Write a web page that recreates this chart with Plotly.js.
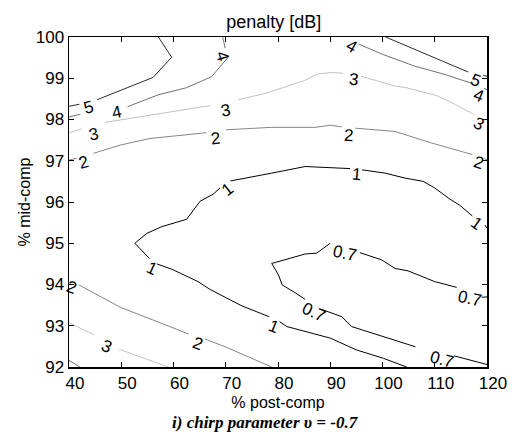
<!DOCTYPE html>
<html>
<head>
<meta charset="utf-8">
<script src="https://cdn.plot.ly/plotly-3.0.1.min.js"></script>
<style>html,body{margin:0;padding:0;background:#fff}#chart{width:519px;height:439px}</style>
</head>
<body>
<div id="chart"></div>
<script>
// ---- data (x: % post-comp, y: % mid-comp); null = gap under a label ----
const c5a_x = [40, 42.0, null, 45.4, 56.1, 59.65, 57.1];
const c5a_y = [98.32, 98.37, null, 98.48, 99.02, 99.51, 100];
const c5b_x = [100.6, 116.4, null, 119.3, 120];
const c5b_y = [100, 99.15, null, 99.07, 99.05];

const c4a_x = [40, 42.2, null, 51.2, 54.9, 57.1, 62.5, 66.0, 67.3, 70.4, null, 69.9, 69.4];
const c4a_y = [98.06, 98.13, null, 98.31, 98.48, 98.6, 98.77, 98.97, 99.04, 99.5, null, 99.73, 100];
const c4b_x = [95.4, 100.0, 106.0, 112.0, 117.0, null, 119.4, 120];
const c4b_y = [99.83, 99.58, 99.3, 99.09, 98.88, null, 98.76, 98.72];
const c4c_x = [40, 42.1];
const c4c_y = [92.16, 92.0];

const c3a_x = [40, 42.4, null, 46.9, 55.5, 65.1, 67.0, null, 72.4, 77.5, 84.8, 87.5, 90.3, 92.5, null, 95.9, 102.4, 104.6, 110.4, 114.0, 117.5, null, 119.6, 120];
const c3a_y = [97.68, 97.77, null, 97.93, 98.11, 98.3, 98.33, null, 98.48, 98.63, 98.93, 99.1, 99.14, 99.12, null, 99.05, 98.81, 98.77, 98.58, 98.36, 98.12, null, 98.01, 98.0];
const c3b_x = [40, 44.8, null, 49.6, 59.0];
const c3b_y = [93.07, 92.78, null, 92.43, 92.0];

const c2a_x = [40, 41.5, null, 44.7, 49.8, 55.5, 62.5, 66.3, null, 70.0, 78.8, 87.1, 90.0, 92.2, null, 94.8, 102.4, 109.4, 117.2, null, 119.5, 120];
const c2a_y = [97.02, 97.06, null, 97.18, 97.38, 97.54, 97.62, 97.68, null, 97.75, 97.81, 97.81, 97.86, 97.82, null, 97.79, 97.71, 97.43, 97.15, null, 97.05, 97.03];
const c2b_x = [41.9, 49.8, 59.3, 62.9, null, 66.0, 69.9, 78.8];
const c2b_y = [93.99, 93.45, 92.98, 92.8, null, 92.68, 92.49, 92.0];

const c1_x = [120, 119.6, null, 117.2, 114.8, 112.9, 110.0, 107.8, 104.3, 100.5, 97.0, 96.1, null, 93.8, 90.0, 85.2, 78.8, 70.9, null, 68.9, 67.6, 65.1, 62.5, 57.7, 54.9, 52.6, 55.4, null, 56.8, 59.7, 64.7, 67.0, 73.1, 78.3, null, 80.3, 81.7, 90.0, 95.1, 100.2, 104.6];
const c1_y = [95.36, 95.44, null, 95.66, 95.92, 96.07, 96.34, 96.5, 96.58, 96.7, 96.76, 96.78, null, 96.81, 96.84, 96.86, 96.7, 96.51, null, 96.34, 96.19, 96.02, 95.58, 95.4, 95.24, 95.0, 94.63, null, 94.5, 94.37, 94.07, 93.88, 93.48, 93.22, null, 93.1, 92.98, 92.7, 92.41, 92.21, 92.0];

const c07_x = [120, 119.0, null, 114.2, 110.0, 104.9, 102.4, 99.8, 95.7, null, 90.0, 87.4, 85.2, 81.3, 78.8, 80.1, 80.8, 83.3, 85.2, null, 88.5, 92.2, 94.1, 100.2, 106.3, null, 113.7, 120];
const c07_y = [93.7, 93.69, null, 93.93, 94.07, 94.33, 94.39, 94.6, 94.77, null, 95.0, 94.76, 94.74, 94.61, 94.51, 94.23, 93.99, 93.8, 93.64, null, 93.39, 93.22, 92.98, 92.73, 92.49, null, 92.27, 92.06];

// contour labels
const label_text = ['5', '5', '4', '4', '4', '4', '3', '3', '3', '3', '3', '2', '2', '2', '2', '2', '2', '1', '1', '1', '1', '1', '0.7', '0.7', '0.7', '0.7'];
const label_x = [43.7, 117.85, 49.1, 69.3, 94.1, 118.3, 44.6, 70.0, 94.4, 118.3, 47.2, 42.7, 68.1, 93.5, 118.3, 40.5, 64.6, 118.0, 95.0, 70.4, 55.8, 79.1, 116.7, 92.9, 86.9, 111.3];
const label_y = [98.28, 98.95, 98.17, 99.55, 99.78, 98.58, 97.63, 98.22, 98.97, 97.9, 92.5, 96.95, 97.54, 97.62, 96.95, 93.93, 92.56, 95.49, 96.66, 96.3, 94.38, 92.99, 93.66, 94.76, 93.33, 92.17];
const label_angle = [-15, 22, -12, 74, 30, 22, -12, -10, 6, 28, 25, -15, -6, 3, 18, 20, 20, 35, 5, -38, 25, 22, 12, 12, 25, 15];

const xTicks = [40, 50, 60, 70, 80, 90, 100, 110, 120];
const yTicks = [92, 93, 94, 95, 96, 97, 98, 99, 100];

// ---- styling ----
const col = {c5: '#2b2b2b', c4: '#707070', c3: '#c2c2c2', c2: '#858585', c1: '#000000', c07: '#000000'};
const series = [
  [c5a_x, c5a_y, col.c5], [c5b_x, c5b_y, col.c5],
  [c4a_x, c4a_y, col.c4], [c4b_x, c4b_y, col.c4], [c4c_x, c4c_y, col.c4],
  [c3a_x, c3a_y, col.c3], [c3b_x, c3b_y, col.c3],
  [c2a_x, c2a_y, col.c2], [c2b_x, c2b_y, col.c2],
  [c1_x, c1_y, col.c1], [c07_x, c07_y, col.c07]
];
const traces = series.map(s => ({
  type: 'scatter', mode: 'lines', x: s[0], y: s[1],
  line: {color: s[2], width: 1}, connectgaps: false,
  hoverinfo: 'skip', showlegend: false
}));

const font = 'Arial, "Liberation Sans", Helvetica, sans-serif';
const annotations = label_text.map((t, i) => ({
  x: label_x[i], y: label_y[i], xref: 'x', yref: 'y', text: t,
  textangle: label_angle[i], showarrow: false,
  font: {family: font, size: 17, color: '#000'}
}));
annotations.push({
  xref: 'paper', yref: 'paper', x: 0.469, y: -0.167, xanchor: 'center', yanchor: 'middle',
  text: '<b><i>i) chirp parameter \u03c5 = -0.7</i></b>', showarrow: false,
  font: {family: '"Liberation Serif", "Times New Roman", serif', size: 17, color: '#000'}
});

const axisCommon = {
  showgrid: false, zeroline: false, showline: true, linecolor: '#000', linewidth: 1.5,
  mirror: 'ticks', ticks: 'inside', ticklen: 5, tickwidth: 1, tickcolor: '#000',
  tickfont: {family: font, size: 17, color: '#000'}, automargin: false
};

const layout = {
  width: 519, height: 439,
  margin: {l: 69, r: 32, t: 37, b: 72, pad: 0},
  paper_bgcolor: '#fff', plot_bgcolor: '#fff',
  title: {text: 'penalty [dB]', font: {family: font, size: 18, color: '#000'},
          xref: 'paper', x: 0.49, xanchor: 'center', yref: 'container', y: 0.95, yanchor: 'middle'},
  xaxis: Object.assign({}, axisCommon, {
    range: [40, 120], tickvals: xTicks, ticktext: xTicks.map(String), ticklabelshift: 6,
    title: {text: '% post-comp', font: {family: font, size: 16, color: '#000'}, standoff: 5}
  }),
  yaxis: Object.assign({}, axisCommon, {
    range: [92, 100], tickvals: yTicks, ticktext: yTicks.map(String),
    title: {text: '% mid-comp', font: {family: font, size: 16, color: '#000'}, standoff: 1}
  }),
  annotations: annotations,
  showlegend: false
};

Plotly.newPlot('chart', traces, layout, {staticPlot: true, displayModeBar: false});
</script>
</body>
</html>
